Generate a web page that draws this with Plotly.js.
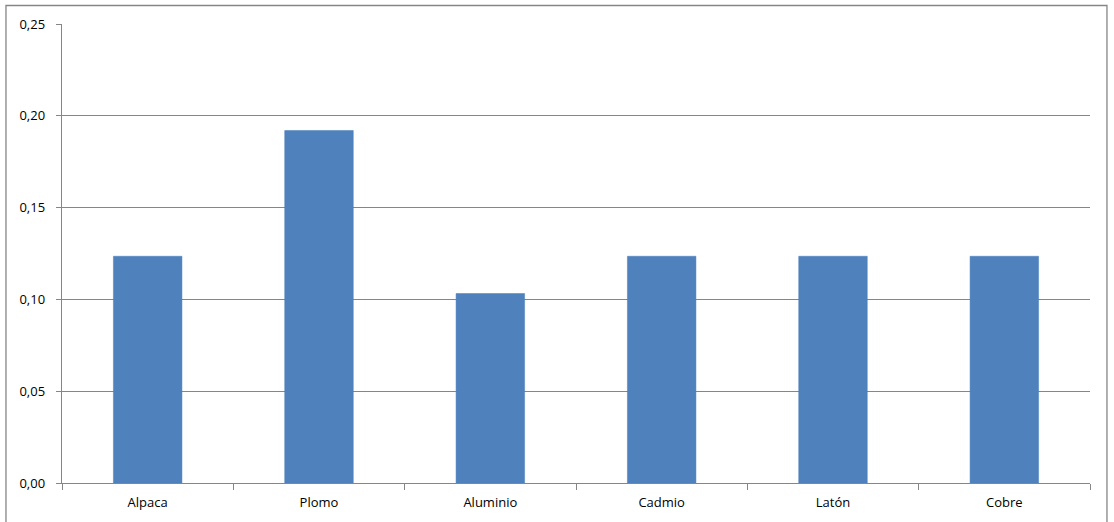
<!DOCTYPE html>
<html>
<head>
<meta charset="utf-8">
<script src="https://cdn.plot.ly/plotly-3.0.1.min.js"></script>
<style>html,body{margin:0;padding:0;background:#fff;}#chart{width:1114px;height:522px;}</style>
</head>
<body>
<div id="chart"></div>
<script>
const categories = ["Alpaca", "Plomo", "Aluminio", "Cadmio", "Latón", "Cobre"];
const values = [0.1235, 0.192, 0.1032, 0.1235, 0.1235, 0.1235];
const yTicks = [0, 0.05, 0.10, 0.15, 0.20, 0.25];

const trace = {
  type: "bar",
  x: categories,
  y: values,
  marker: {color: "#4F81BD", line: {color: "#4A7EBB", width: 0.5}},
  hoverinfo: "x+y"
};

const layout = {
  width: 1114,
  height: 522,
  margin: {l: 62, r: 24, t: 23.5, b: 39.3, pad: 0},
  paper_bgcolor: "#ffffff",
  plot_bgcolor: "#ffffff",
  separators: ",.",
  bargap: 0.6,
  showlegend: false,
  font: {family: "Open Sans, Liberation Sans, sans-serif", size: 13, color: "#000000"},
  xaxis: {
    type: "category",
    tickson: "boundaries",
    ticks: "outside",
    ticklen: 6,
    tickcolor: "#868686",
    ticklabelstandoff: 7,
    showline: true,
    linecolor: "#868686",
    linewidth: 1.3,
    showgrid: false,
    zeroline: false,
    tickfont: {size: 13, color: "#000"},
    fixedrange: true
  },
  yaxis: {
    range: [0, 0.25],
    tickvals: yTicks,
    tickformat: ".2f",
    ticks: "outside",
    ticklen: 5,
    tickcolor: "#868686",
    ticklabelstandoff: 8,
    showline: true,
    linecolor: "#868686",
    linewidth: 1.3,
    showgrid: true,
    gridcolor: "#868686",
    gridwidth: 1.3,
    zeroline: false,
    tickfont: {size: 13, color: "#000"},
    fixedrange: true
  },
  shapes: [{
    type: "rect",
    xref: "paper", yref: "paper",
    x0: -0.0545, x1: 1.0165,
    y0: -0.2, y1: 1.0403,
    line: {color: "#868686", width: 1.3},
    fillcolor: "rgba(0,0,0,0)",
    layer: "below"
  }]
};

Plotly.newPlot("chart", [trace], layout, {displayModeBar: false, staticPlot: true});
</script>
</body>
</html>
